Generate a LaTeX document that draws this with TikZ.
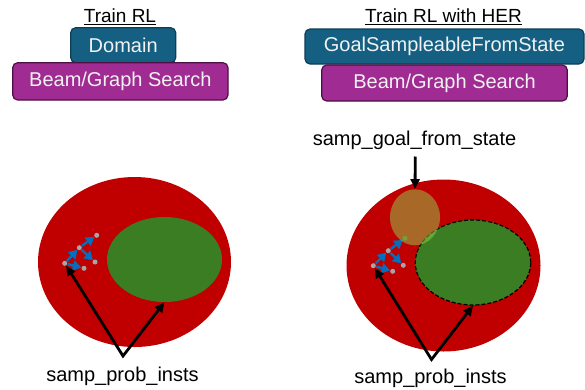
\documentclass[tikz,border=0pt]{standalone}
\usepackage{fontspec}
\setmainfont{Liberation Sans}
\usetikzlibrary{arrows.meta,shapes.geometric}
\definecolor{cdomain}{HTML}{156082}
\definecolor{cdomainb}{HTML}{0E3E54}
\definecolor{cpurple}{HTML}{A02B93}
\definecolor{cpurpleb}{HTML}{4D1046}
\definecolor{cred}{HTML}{C00000}
\definecolor{cgreen}{HTML}{3B7D23}
\definecolor{cblue}{HTML}{0070C0}
\definecolor{cgrey}{HTML}{A6A6A6}
\definecolor{clight}{HTML}{92D050}
\definecolor{cgoal}{RGB}{85,110,45}
\begin{document}
\begin{tikzpicture}[x=1pt,y=-1pt,
  box/.style={rounded corners=5pt, line width=1.2pt, text=white!95!black,
    font=\fontsize{20}{24}\selectfont, inner sep=0pt, anchor=center},
  ttl/.style={font=\fontsize{19}{23}\selectfont, inner sep=0pt, anchor=base},
  lbl/.style={font=\fontsize{20}{24}\selectfont, inner sep=0pt, anchor=base},
  oval/.style={ellipse, inner sep=0pt, anchor=center},
  snode/.style={circle, fill=cgrey, inner sep=0pt, minimum size=5pt},
  barrow/.style={cblue, line width=2.4pt, -{Triangle[length=8.5pt,width=10pt]}, shorten >=0pt, shorten <=0.5pt},
  karrow/.style={black, line width=2.8pt, line join=miter, {Triangle[length=10pt,width=9pt]}-{Triangle[length=10pt,width=9pt]}},
  darrow/.style={black, line width=2.8pt, -{Triangle[length=10pt,width=9pt]}}
]
\useasboundingbox (0,0) rectangle (585,389);

% ---------- left panel ----------
\node[ttl] (t1) at (120,22) {Train RL};
\draw[line width=0.9pt] ([yshift=-2.5pt]t1.base west) -- ([yshift=-2.5pt]t1.base east);
\node[box, fill=cdomain, draw=cdomainb, minimum width=105pt, minimum height=35pt] (dom) at (123.2,45.2) {Domain};
\node[box, fill=cpurple, draw=cpurpleb, minimum width=215.3pt, minimum height=37.3pt] (bs1) at (120.35,81.35) {Beam/Graph Search};

\node[oval, fill=cred, minimum width=193pt, minimum height=170pt] (r1) at (134.5,262) {};
\node[oval, fill=cgreen, minimum width=115pt, minimum height=85pt] (g1) at (164.5,259.5) {};

\node[snode] (a1) at (96.7,235.3) {};
\node[snode] (b1) at (79.3,247.7) {};
\node[snode] (c1) at (95,262) {};
\node[snode] (d1) at (64.7,263.3) {};
\node[snode] (e1) at (84,268.3) {};
\draw[barrow] (b1) -- (a1);
\draw[barrow] (b1) -- (c1);
\draw[barrow] (d1) -- (b1);
\draw[barrow] (d1) -- (e1);

\coordinate (v1) at (123,356);
\draw[karrow] (d1) -- (v1) -- (g1.south);
\node[lbl] (p1) at (122.5,381.7) {samp\_prob\_insts};

% ---------- right panel ----------
\node[ttl] (t2) at (443.5,22) {Train RL with HER};
\draw[line width=0.9pt] ([yshift=-2.5pt]t2.base west) -- ([yshift=-2.5pt]t2.base east);
\node[box, fill=cdomain, draw=cdomainb, minimum width=279pt, minimum height=35pt] (gsfs) at (444.5,46.5) {GoalSampleableFromState};
\node[box, fill=cpurple, draw=cpurpleb, minimum width=245.6pt, minimum height=36pt] (bs2) at (444.5,83) {Beam/Graph Search};

\node[lbl] (gl) at (414.5,145) {samp\_goal\_from\_state};
\coordinate (gs) at (415.3,156.5);

\node[oval, fill=cred, minimum width=194pt, minimum height=172pt] (r2) at (443.5,265.5) {};
\node[oval, fill=cgreen, draw=black, line width=1.2pt, dash pattern=on 4pt off 2pt, minimum width=115.5pt, minimum height=85pt] (g2) at (473,262.5) {};

\node[snode, fill=cgoal] (a2) at (405,238.3) {};
\node[snode] (b2) at (388.3,250.7) {};
\node[snode] (c2) at (403.3,265.3) {};
\node[snode] (d2) at (373.3,265.7) {};
\node[snode] (e2) at (392.7,271.3) {};
\draw[barrow] (b2) -- (a2);
\draw[barrow] (b2) -- (c2);
\draw[barrow] (d2) -- (b2);
\draw[barrow] (d2) -- (e2);

\node[oval, fill=clight, fill opacity=0.5, minimum width=50pt, minimum height=56pt] (o2) at (415,217.3) {};
\draw[darrow] (gs) -- (o2.north);

\coordinate (v2) at (431.5,359.5);
\draw[karrow] (d2) -- (v2) -- (g2.south);
\node[lbl] (p2) at (430.5,383) {samp\_prob\_insts};
\end{tikzpicture}
\end{document}
